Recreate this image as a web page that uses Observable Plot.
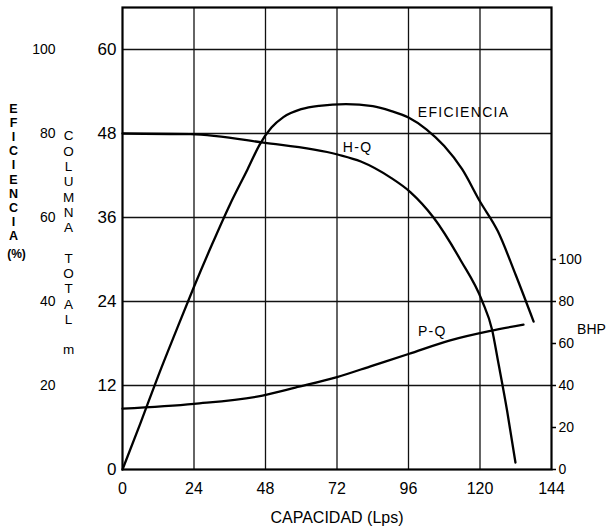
<!DOCTYPE html>
<html>
<head>
<meta charset="utf-8">
<script src="https://cdn.jsdelivr.net/npm/d3@7"></script>
<script src="https://cdn.jsdelivr.net/npm/@observablehq/plot@0.6"></script>
<style>
  body { margin: 0; background: #fff; }
  svg { display: block; }
  .curvelabel text { letter-spacing: 1.3px; }
</style>
</head>
<body>
<div id="chart"></div>
<script>
// ---- tick labels ----
const xTicks = [0, 24, 48, 72, 96, 120, 144];
const headTicks = [0, 12, 24, 36, 48, 60];
const effTicks = [20, 40, 60, 80, 100];
const bhpTicks = [0, 20, 40, 60, 80, 100];

// ---- series ----
// Eficiencia (%) vs Capacidad (Lps)
const effQ = [0, 6, 12, 18, 24, 30, 36, 42, 46, 50, 54, 60, 66, 75, 84, 90, 96, 102, 108, 114, 120, 126, 132, 138];
const effV = [0, 11, 22.3, 33, 43.5, 53.5, 63, 71.5, 77.3, 81.4, 83.9, 85.8, 86.6, 87, 86.5, 85.4, 83.8, 81, 77, 71.5, 63.8, 56.7, 46.3, 35.2];
// H-Q: columna total (m)
const hqQ = [0, 22.8, 47.3, 72.2, 80, 90, 96.7, 104.4, 113.5, 120.7, 124.1, 126, 129.1, 131.9];
const hqV = [48, 47.9, 46.7, 45.0, 44.0, 41.7, 39.6, 36, 29.9, 24.1, 19.9, 15.6, 8.4, 1.0];
// P-Q: potencia (BHP)
const pqQ = [0, 24, 47, 58, 72, 84, 96, 110, 123.5, 134.6];
const pqV = [29, 31.3, 35.2, 39, 44, 49.5, 55, 61.5, 66, 69];

// ---- curve labels (data units: Q, head m) ----
const curveLabels = ["EFICIENCIA", "H-Q", "P-Q"];
const labelQ = [114.5, 78.9, 104];
const labelH = [51, 46, 19.7];

// scale relations between the three vertical axes
const HEAD_PER_EFF = 60 / 100;  // 100 % sits at 60 m
const HEAD_PER_BHP = 24 / 80;   // 80 BHP sits at 24 m

const effData = effQ.map((q, i) => ({q, h: effV[i] * HEAD_PER_EFF}));
const hqData = hqQ.map((q, i) => ({q, h: hqV[i]}));
const pqData = pqQ.map((q, i) => ({q, h: pqV[i] * HEAD_PER_BHP}));
const labelData = curveLabels.map((t, i) => ({t, q: labelQ[i], h: labelH[i]}));

const font = "'Liberation Sans', Arial, Helvetica, sans-serif";

const chart = Plot.plot({
  width: 608,
  height: 532,
  marginLeft: 122,
  marginRight: 57,
  marginTop: 7,
  marginBottom: 63,
  x: {domain: [0, 144]},
  y: {domain: [0, 66]},
  style: {fontFamily: font, fontSize: "16px", color: "#000", background: "#fff", overflow: "visible"},
  marks: [
    Plot.ruleX(xTicks.slice(1, -1), {stroke: "#111", strokeWidth: 1.3}),
    Plot.ruleY(headTicks.slice(1), {stroke: "#111", strokeWidth: 1.3}),
    Plot.frame({stroke: "#000", strokeWidth: 2.2}),
    Plot.axisX(xTicks, {tickSize: 0, tickPadding: 13, fontSize: 16, label: null}),
    Plot.axisY(headTicks, {tickSize: 0, tickPadding: 6, fontSize: 17, label: null}),
    Plot.axisY(effTicks.map(v => v * HEAD_PER_EFF), {
      tickFormat: v => Math.round(v / HEAD_PER_EFF), tickSize: 0, tickPadding: 67, fontSize: 14, label: null
    }),
    Plot.axisY(bhpTicks.map(v => v * HEAD_PER_BHP), {
      anchor: "right", tickFormat: v => Math.round(v / HEAD_PER_BHP), tickSize: 4, tickPadding: 3,
      fontSize: 14, label: null, strokeWidth: 1.5
    }),
    Plot.line(effData, {x: "q", y: "h", curve: "monotone-x", stroke: "#000", strokeWidth: 2.3}),
    Plot.line(hqData, {x: "q", y: "h", curve: "monotone-x", stroke: "#000", strokeWidth: 2.3}),
    Plot.line(pqData, {x: "q", y: "h", curve: "monotone-x", stroke: "#000", strokeWidth: 2.3}),
    Plot.text(labelData, {x: "q", y: "h", text: "t", fontSize: 14, fill: "#000", className: "curvelabel"}),
    // axis titles
    Plot.text(["CAPACIDAD (Lps)"], {frameAnchor: "bottom", dy: 53, fontSize: 16, fill: "#000"}),
    Plot.text(["BHP"], {frameAnchor: "right", y: [20], dx: 40, fontSize: 14, textAnchor: "middle", fill: "#000"}),
    Plot.text(["E\nF\nI\nC\nI\nE\nN\nC\nI\nA"], {
      frameAnchor: "left", dx: -109, dy: -66.5, fontSize: 12.5, fontWeight: 600, lineHeight: 1.13, textAnchor: "middle", fill: "#000"
    }),
    Plot.text(["(%)"], {frameAnchor: "left", dx: -106, dy: 16, fontSize: 12, fontWeight: 600, textAnchor: "middle", fill: "#000"}),
    Plot.text(["C\nO\nL\nU\nM\nN\nA\n\nT\nO\nT\nA\nL\n\nm"], {
      frameAnchor: "left", dx: -54, dy: 4, fontSize: 13.5, lineHeight: 1.133, textAnchor: "middle", fill: "#000"
    })
  ]
});
document.getElementById("chart").appendChild(chart);
</script>
</body>
</html>
